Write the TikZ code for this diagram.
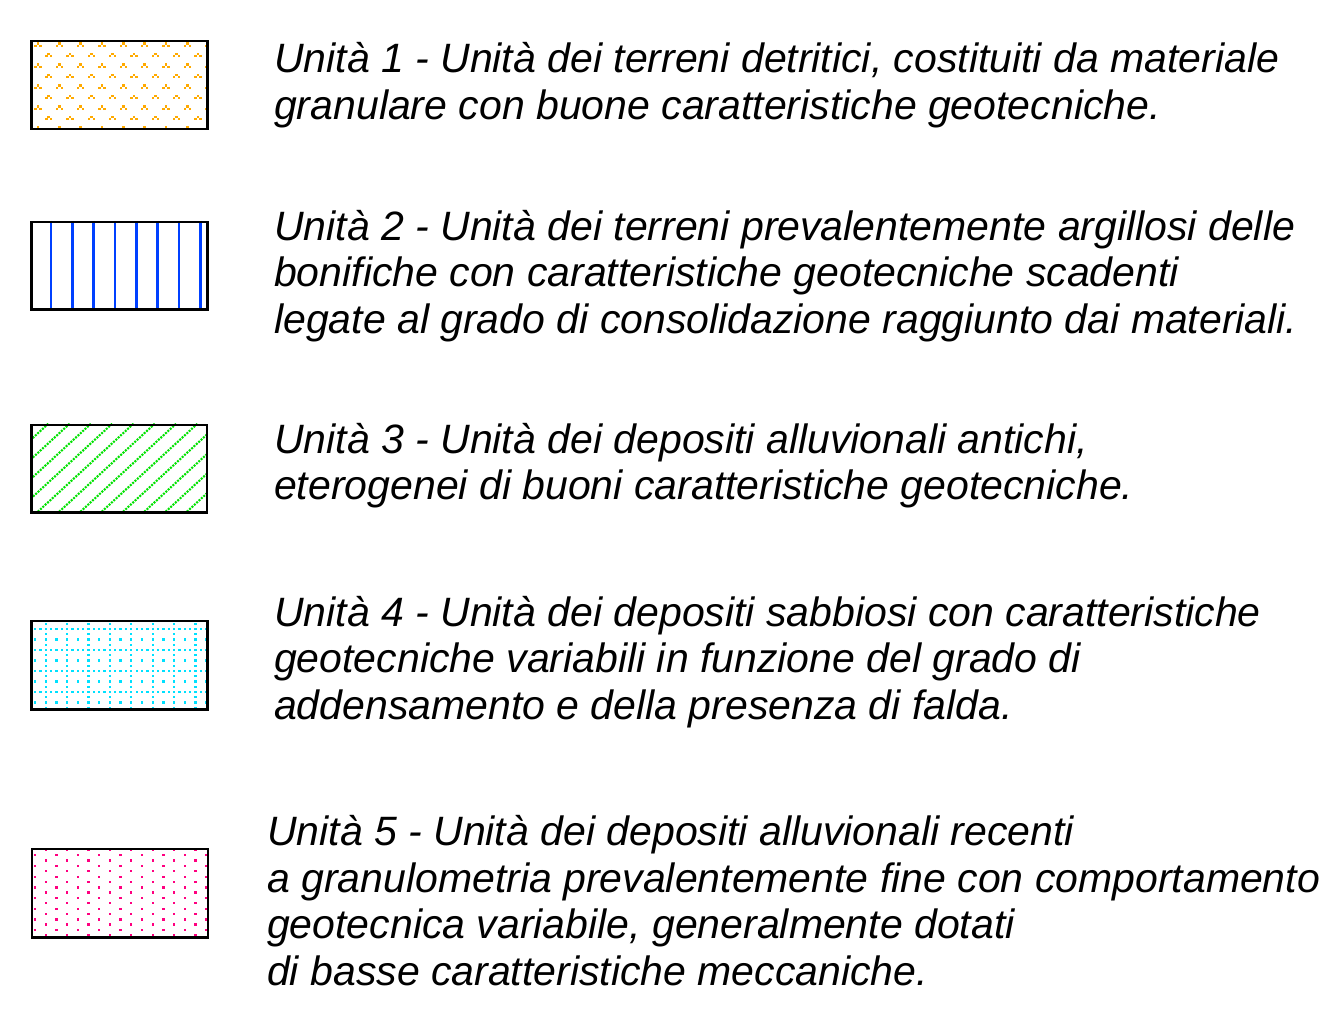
\documentclass[tikz,border=0pt]{standalone}
\usepackage{fontspec}
\setmainfont{Liberation Sans}
\definecolor{uorange}{RGB}{255,170,0}
\definecolor{ublue}{RGB}{0,64,255}
\definecolor{ugreen}{RGB}{0,225,0}
\definecolor{ucyan}{RGB}{0,225,255}
\definecolor{upink}{RGB}{255,0,128}
\tikzset{
  legendbox/.style={draw=black, line width=2.2pt},
  legtext/.style={anchor=base west, inner sep=0pt, font=\fontsize{41}{46.5}\selectfont\itshape},
}
\begin{document}
\begin{tikzpicture}[x=1pt,y=-1pt]
\useasboundingbox (0,0) rectangle (1338,1025);
\fill[white] (0,0) rectangle (1338,1025);

% ---------- Box 1: orange motifs ----------
\begin{scope}
\clip (30.3,40.3) rectangle (206.3,128);
\foreach \r in {0,...,4}{
  \foreach \k in {0,...,8}{
    \pgfmathsetmacro{\xa}{34.3+21.33*\k}
    \pgfmathsetmacro{\ya}{42.3+21*\r}
    \fill[uorange] (\xa+2.4,\ya) rectangle ++(2.5,2.3);
    \fill[uorange] (\xa,\ya+2.3) rectangle ++(2.5,2.3);
    \fill[uorange] (\xa+4.9,\ya+2.3) rectangle ++(2.5,2.3);
    \pgfmathsetmacro{\xb}{45+21.33*\k}
    \pgfmathsetmacro{\yb}{52.8+21*\r}
    \fill[uorange] (\xb+2.4,\yb) rectangle ++(2.5,2.3);
    \fill[uorange] (\xb,\yb+2.3) rectangle ++(2.5,2.3);
    \fill[uorange] (\xb+4.9,\yb+2.3) rectangle ++(2.5,2.3);
  }
}
\end{scope}
\node[legendbox, minimum width=176pt, minimum height=87.7pt, anchor=north west, inner sep=0pt] (b1) at (30.3,40.3) {};

% ---------- Box 2: blue vertical lines ----------
\begin{scope}
\clip (30.3,220.8) rectangle (206.3,308.3);
\foreach \k in {0,...,7}{
  \draw[ublue, line width=2.6pt] ({51+21.35*\k},220.8) -- ++(0,87.5);
}
\end{scope}
\node[legendbox, minimum width=176pt, minimum height=87.5pt, anchor=north west, inner sep=0pt] (b2) at (30.3,220.8) {};

% ---------- Box 3: green dotted diagonals ----------
\begin{scope}
\clip (30.3,423.7) rectangle (206,511.3);
\foreach \k in {0,...,14}{
  \draw[ugreen, line width=2.1pt, dash pattern=on 2pt off 1.2pt] ({48.3+21.3*\k},423.7) -- ++(-120,110.4);
}
\end{scope}
\node[legendbox, minimum width=175.7pt, minimum height=87.6pt, anchor=north west, inner sep=0pt] (b3) at (30.3,423.7) {};

% ---------- Box 4: cyan dotted grid ----------
\begin{scope}
\clip (30.3,620) rectangle (206.3,708.3);
\foreach \j in {0,4,8,12}{
  \foreach \i in {0,...,32}{
    \fill[ucyan] ({35+5.35*\i-1.15},{629+5.25*\j-1.15}) rectangle ++(2.3,2.3);
  }
}
\foreach \i in {2,6,...,30}{
  \foreach \j in {-1,...,15}{
    \fill[ucyan] ({35+5.35*\i-1.15},{629+5.25*\j-1.15}) rectangle ++(2.3,2.3);
  }
}
\foreach \j in {2,6,10,14}{
  \foreach \i in {0,2,...,32}{
    \fill[ucyan] ({35+5.35*\i-1.15},{629+5.25*\j-1.15}) rectangle ++(2.3,2.3);
  }
}
\end{scope}
\node[legendbox, minimum width=176pt, minimum height=88.3pt, anchor=north west, inner sep=0pt] (b4) at (30.3,620) {};

% ---------- Box 5: pink staggered dots ----------
\begin{scope}
\clip (31,848) rectangle (207,936.3);
\foreach \i in {0,2,...,16}{
  \foreach \j in {0,...,8}{
    \fill[upink] ({35+10.7*\i-1.15},{855.3+10.7*\j-1.15}) rectangle ++(2.3,2.3);
  }
}
\foreach \i in {1,3,...,15}{
  \foreach \j in {0,...,8}{
    \fill[upink] ({35+10.7*\i-1.15},{849.7+10.7*\j-1.15}) rectangle ++(2.3,2.3);
  }
}
\end{scope}
\node[legendbox, minimum width=176pt, minimum height=88.3pt, anchor=north west, inner sep=0pt] (b5) at (31,848) {};

% ---------- Texts ----------
\node[legtext] (t1a) at (274,73) {Unità 1 - Unità dei terreni detritici, costituiti da materiale};
\node[legtext] (t1b) at (274,119.5) {granulare con buone caratteristiche geotecniche.};

\node[legtext] (t2a) at (274,240) {Unità 2 - Unità dei terreni prevalentemente argillosi delle};
\node[legtext] (t2b) at (274,286.5) {bonifiche con caratteristiche geotecniche scadenti};
\node[legtext] (t2c) at (274,333) {legate al grado di consolidazione raggiunto dai materiali.};

\node[legtext] (t3a) at (274,453) {Unità 3 - Unità dei depositi alluvionali antichi,};
\node[legtext] (t3b) at (274,499.5) {eterogenei di buoni caratteristiche geotecniche.};

\node[legtext] (t4a) at (274,626) {Unità 4 - Unità dei depositi sabbiosi con caratteristiche};
\node[legtext] (t4b) at (274,672.5) {geotecniche variabili in funzione del grado di};
\node[legtext] (t4c) at (274,719) {addensamento e della presenza di falda.};

\node[legtext] (t5a) at (267,845.5) {Unità 5 - Unità dei depositi alluvionali recenti};
\node[legtext] (t5b) at (267,892) {a granulometria prevalentemente fine con comportamento};
\node[legtext] (t5c) at (267,938.5) {geotecnica variabile, generalmente dotati};
\node[legtext] (t5d) at (267,985) {di basse caratteristiche meccaniche.};
\end{tikzpicture}
\end{document}
